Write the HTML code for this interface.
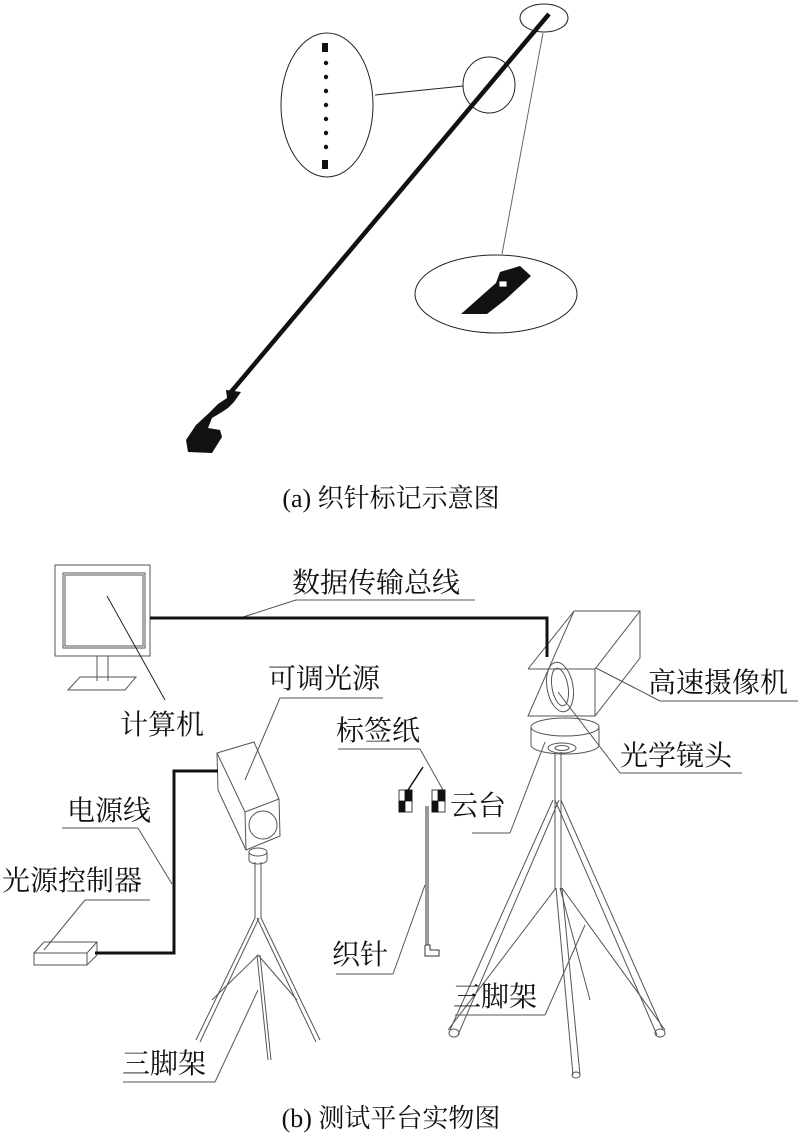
<!DOCTYPE html>
<html><head><meta charset="utf-8"><style>
html,body{margin:0;padding:0;background:#fff;}
svg{display:block;}
text{font-family:"Liberation Serif","Noto Serif CJK SC","Noto Sans CJK SC",serif;fill:#111;}
</style></head><body>
<svg width="800" height="1143" viewBox="0 0 800 1143" xmlns="http://www.w3.org/2000/svg">
<g fill="none" stroke="#222" stroke-width="1">
<ellipse cx="327" cy="105" rx="46" ry="72"/>
<ellipse cx="489" cy="85" rx="26" ry="28"/>
<ellipse cx="544" cy="18" rx="24" ry="14"/>
<ellipse cx="496" cy="294" rx="81" ry="39"/>
<line x1="375" y1="95" x2="463" y2="86"/>
<line x1="543" y1="33" x2="502" y2="254" stroke="#666"/>
</g>
<path d="M549,14 L231,392" stroke="#111" stroke-width="4.5" fill="none"/>
<path d="M226,390 L241,392 L234,402 L228,408 L222,412 L212,418 L208,428 L220,430 L222,437 L212,453 L188,452 L186,440 L196,425 L208,414 L218,404 L227,398 Z" fill="#111"/>
<g fill="#111">
<rect x="322" y="43" width="6" height="9"/>
<circle cx="326" cy="63" r="2.2"/><circle cx="326" cy="77" r="2.2"/><circle cx="326" cy="91" r="2.2"/>
<circle cx="326" cy="105" r="2.2"/><circle cx="326" cy="119" r="2.2"/><circle cx="326" cy="133" r="2.2"/>
<circle cx="326" cy="147" r="2.2"/>
<rect x="322" y="160" width="6" height="9"/>
<path d="M461,314 L496,283 L500,272 L520,266 L531,276 L505,300 L487,314 Z"/>
</g>
<rect x="499" y="281" width="8" height="6" fill="#fff" stroke="#111" stroke-width="0.8"/>
<text x="391" y="507" font-size="26" text-anchor="middle">(a) 织针标记示意图</text>

<g fill="none" stroke="#555" stroke-width="1">
<rect x="55" y="565" width="95" height="91"/>
<rect x="63" y="573" width="82" height="75"/>
<rect x="65" y="575" width="78" height="71"/>
<line x1="97" y1="656" x2="97" y2="681"/><line x1="108" y1="656" x2="108" y2="681"/>
<path d="M68,690 L80,677 L136,677 L125,690 Z"/>
<line x1="107" y1="596" x2="165" y2="700" stroke="#222"/>
<line x1="296" y1="600" x2="475" y2="600"/>
<line x1="296" y1="600" x2="240" y2="618"/>
<path d="M574,611 L640,611 L640,658 L595,716 L528,716 L574,611"/>
<path d="M528,669 L595,669 L640,611 M595,669 L595,716 M528,669 L574,611"/>
<ellipse cx="560" cy="687" rx="13" ry="25" transform="rotate(-10 560 687)"/>
<ellipse cx="560" cy="687" rx="8" ry="19" transform="rotate(-10 560 687)"/>
<ellipse cx="565" cy="727" rx="34" ry="9"/>
<path d="M531,727 L531,745 M599,727 L599,745"/>
<path d="M531,745 A34,9 0 0 0 599,745"/>
<ellipse cx="562" cy="748" rx="14" ry="5"/>
<ellipse cx="562" cy="748" rx="7" ry="2.5"/>
<line x1="660" y1="701" x2="798" y2="701"/><line x1="660" y1="701" x2="596" y2="668"/>
<line x1="620" y1="773" x2="742" y2="773"/><line x1="620" y1="773" x2="558" y2="692"/>
<line x1="472" y1="833" x2="510" y2="833"/><line x1="510" y1="833" x2="545" y2="742"/>
<line x1="555" y1="752" x2="555" y2="890"/><line x1="561" y1="752" x2="561" y2="890"/>
<path d="M553,800 L450,1030 M559,800 L458,1035"/>
<path d="M561,800 L663,1030 M555,800 L657,1035"/>
<path d="M556,888 L573,1075 M562,888 L580,1075"/>
<path d="M556,888 L448,1030 M562,888 L665,1030"/>
<path d="M560,888 L590,1000"/>
<ellipse cx="454" cy="1033" rx="5" ry="4"/><ellipse cx="660" cy="1033" rx="5" ry="4"/><ellipse cx="576" cy="1075" rx="4" ry="3"/>
<line x1="455" y1="1015" x2="545" y2="1015"/><line x1="545" y1="1015" x2="585" y2="925"/>
<path d="M217,753 L254,742 L279,799 L245,812 Z"/>
<path d="M245,812 L246,850 L280,836 L279,799 M217,753 L218,790 L246,850"/>
<circle cx="263" cy="825" r="14"/>
<ellipse cx="258" cy="852" rx="9" ry="4"/><path d="M249,852 L249,860 M267,852 L267,860 M249,860 A9,4 0 0 0 267,860"/>
<line x1="255" y1="862" x2="255" y2="918"/><line x1="261" y1="862" x2="261" y2="918"/>
<path d="M255,918 L196,1040 M259,918 L200,1042 M257,918 L316,1042 M261,918 L320,1040"/>
<path d="M257,955 L268,1060 M260,955 L271,1060 M258,955 L212,1000 M258,955 L297,1000"/>
<line x1="280" y1="698" x2="383" y2="698"/><line x1="280" y1="698" x2="245" y2="780"/>
<line x1="123" y1="1082" x2="215" y2="1082"/><line x1="215" y1="1082" x2="258" y2="990"/>
<path d="M34,953 L44,942 L97,942 L97,955 L87,965 L34,965 Z M34,953 L87,953 L97,942 M87,953 L87,965"/>
<line x1="62" y1="828" x2="138" y2="828"/><line x1="138" y1="828" x2="172" y2="884"/>
<line x1="85" y1="900" x2="150" y2="900"/><line x1="85" y1="900" x2="44" y2="950"/>
<line x1="338" y1="749" x2="420" y2="749"/><line x1="420" y1="749" x2="443" y2="790"/>
<line x1="423" y1="767" x2="408" y2="790" stroke="#111" stroke-width="1.5"/>
<path d="M426,806 L426,945 L430,945 L430,950 L439,950 L439,956 L425,956 L425,945" stroke="#333"/>
<path d="M428,806 L428,945" stroke="#333"/>
<line x1="336" y1="974" x2="393" y2="974"/><line x1="393" y1="974" x2="425" y2="885"/>
</g>
<path d="M150,618 L547,618 L547,657" fill="none" stroke="#111" stroke-width="3"/>
<path d="M218,771 L174,771 L174,953 L95,953" fill="none" stroke="#111" stroke-width="3"/>
<g fill="#111" stroke="#111" stroke-width="0.8">
<rect x="399" y="790" width="13" height="22" fill="#fff"/>
<rect x="405" y="790" width="7" height="11"/><rect x="399" y="801" width="6" height="11"/>
<rect x="432" y="790" width="13" height="22" fill="#fff"/>
<rect x="438" y="790" width="7" height="11"/><rect x="432" y="801" width="6" height="11"/>
</g>
<g font-size="28">
<text x="292" y="592">数据传输总线</text>
<text x="120" y="734">计算机</text>
<text x="268" y="688">可调光源</text>
<text x="336" y="740">标签纸</text>
<text x="450" y="815">云台</text>
<text x="648" y="692">高速摄像机</text>
<text x="620" y="765">光学镜头</text>
<text x="67" y="820">电源线</text>
<text x="2" y="890">光源控制器</text>
<text x="332" y="964">织针</text>
<text x="453" y="1006">三脚架</text>
<text x="122" y="1073">三脚架</text>
</g>
<text x="391" y="1127" font-size="26" text-anchor="middle">(b) 测试平台实物图</text>
</svg>
</body></html>
